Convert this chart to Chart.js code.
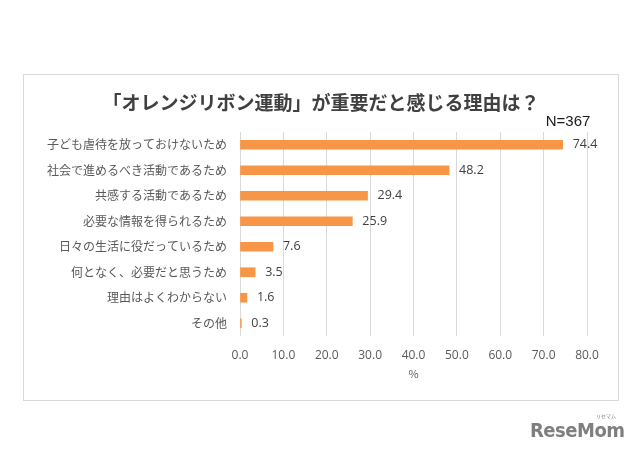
<!DOCTYPE html>
<html>
<head>
<meta charset="utf-8">
<script src="https://cdn.jsdelivr.net/npm/chart.js@4/dist/chart.umd.min.js"></script>
<style>
html,body{margin:0;padding:0;background:#fff;}
#wrap{position:relative;width:640px;height:455px;}
canvas{position:absolute;left:0;top:0;}
#logo{position:absolute;left:530px;top:418px;font-family:"DejaVu Sans Condensed","DejaVu Sans";font-stretch:condensed;font-weight:bold;font-size:20px;color:#7f7f7f;letter-spacing:-0.5px;white-space:nowrap;}
#logo small{position:absolute;left:66px;top:-6px;font-size:5px;font-family:"Noto Sans CJK JP";letter-spacing:0;font-weight:normal;}
</style>
</head>
<body>
<div id="wrap">
<canvas id="c" width="640" height="455"></canvas>
<div id="logo">ReseMom<small>リセマム</small></div>
</div>
<script>
const titleText = "「オレンジリボン運動」が重要だと感じる理由は？";
const sampleText = "N=367";
const axisUnit = "%";
const categories = [
  "子ども虐待を放っておけないため",
  "社会で進めるべき活動であるため",
  "共感する活動であるため",
  "必要な情報を得られるため",
  "日々の生活に役だっているため",
  "何となく、必要だと思うため",
  "理由はよくわからない",
  "その他"
];
const values = [74.4, 48.2, 29.4, 25.9, 7.6, 3.5, 1.6, 0.3];
const xTicks = [0, 10, 20, 30, 40, 50, 60, 70, 80];

const decor = {
  id: 'decor',
  beforeDraw(chart) {
    const ctx = chart.ctx;
    ctx.save();
    ctx.fillStyle = '#fff';
    ctx.fillRect(0, 0, chart.width, chart.height);
    ctx.strokeStyle = '#d9d9d9';
    ctx.lineWidth = 1;
    ctx.strokeRect(23.5, 74.5, 595, 326);
    ctx.restore();
  },
  afterDraw(chart) {
    const ctx = chart.ctx;
    const ca = chart.chartArea;
    ctx.save();
    ctx.textAlign = 'center';
    ctx.textBaseline = 'middle';
    ctx.fillStyle = '#404040';
    ctx.font = 'bold 19px "Noto Sans CJK JP"';
    ctx.fillText(titleText, 321, 103);
    ctx.fillStyle = '#1a1a1a';
    ctx.font = '15px "Liberation Sans"';
    ctx.fillText(sampleText, 568, 122);
    ctx.fillStyle = '#595959';
    ctx.font = '11px "Noto Sans CJK JP"';
    ctx.fillText(axisUnit, (ca.left + ca.right) / 2, 374);
    const meta = chart.getDatasetMeta(0);
    ctx.textAlign = 'left';
    ctx.fillStyle = '#404040';
    ctx.font = '12.5px "Open Sans"';
    meta.data.forEach((el, i) => {
      ctx.fillText(values[i].toFixed(1), el.x + 10, el.y);
    });
    ctx.restore();
  }
};

new Chart(document.getElementById('c'), {
  type: 'bar',
  data: {
    labels: categories,
    datasets: [{
      data: values,
      backgroundColor: '#f79646',
      borderWidth: 0,
      barThickness: 9
    }]
  },
  options: {
    indexAxis: 'y',
    responsive: false,
    animation: false,
    devicePixelRatio: 1,
    layout: { padding: { top: 132, right: 53, left: 0, bottom: 0 } },
    plugins: { legend: { display: false }, tooltip: { enabled: false }, title: { display: false } },
    scales: {
      y: {
        afterFit(s) { s.width = 240; },
        grid: { display: false, drawTicks: false },
        border: { display: false },
        ticks: {
          padding: 13,
          color: '#595959',
          font: { family: '"Noto Sans CJK JP"', size: 12 }
        }
      },
      x: {
        min: 0, max: 80,
        afterFit(s) { s.height = 119; },
        afterBuildTicks(s) { s.ticks = xTicks.map(v => ({ value: v })); },
        grid: { color: '#d9d9d9', drawTicks: false },
        border: { display: false },
        ticks: {
          padding: 12,
          color: '#595959',
          font: { family: '"Open Sans"', size: 12 },
          callback: (v) => Number(v).toFixed(1)
        }
      }
    }
  },
  plugins: [decor]
});
</script>
</body>
</html>
